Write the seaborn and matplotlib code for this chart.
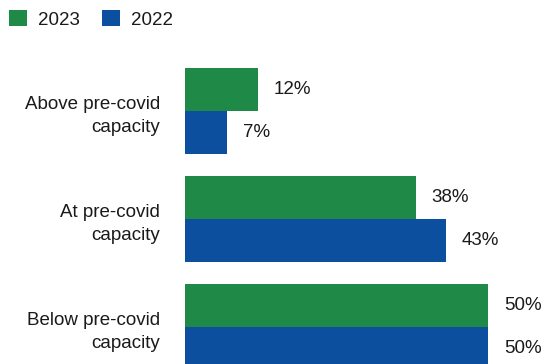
import matplotlib
matplotlib.use("Agg")
import matplotlib.pyplot as plt
from matplotlib.patches import Patch
import seaborn as sns
import pandas as pd

categories = ["Above pre-covid\ncapacity", "At pre-covid\ncapacity", "Below pre-covid\ncapacity"]
years = ["2023", "2022"]
values_2023 = [12, 38, 50]
values_2022 = [7, 43, 50]
colors = {"2023": "#1f8a47", "2022": "#0b4f9e"}

df = pd.DataFrame({
    "category": categories * 2,
    "year": ["2023"] * 3 + ["2022"] * 3,
    "share": values_2023 + values_2022,
})

sns.set_theme(style="white")
plt.rcParams["font.family"] = ["Liberation Sans", "DejaVu Sans"]

fig = plt.figure(figsize=(5.43, 3.64), dpi=100)
ax = fig.add_axes([185 / 543, 0.0, 358 / 543, 307 / 364])

sns.barplot(data=df, y="category", x="share", hue="year", hue_order=years,
            order=categories, palette=colors, orient="h", width=0.8,
            saturation=1, linewidth=0, edgecolor="none", ax=ax, legend=False)

for container in ax.containers:
    ax.bar_label(container, fmt="{:.0f}%", padding=11.5, fontsize=13.5,
                 color="#1a1a1a")

ax.set_xlim(0, 59)
ax.set_ylim(2.3426, -0.5)
ax.set_xlabel("")
ax.set_ylabel("")
ax.set_xticks([])
ax.tick_params(axis="y", length=0, pad=18, labelsize=13.5, labelcolor="#1a1a1a")
for lbl in ax.get_yticklabels():
    lbl.set_linespacing(1.5)
    lbl.set_horizontalalignment("right")
for s in ax.spines.values():
    s.set_visible(False)

handles = [Patch(facecolor=colors[y], edgecolor="none", label=y) for y in years]
fig.legend(handles=handles, loc="upper left", bbox_to_anchor=(9 / 543, 1 - 10 / 364),
           ncol=2, frameon=False, fontsize=13.5, handlelength=0.95,
           handleheight=0.95, handletextpad=0.6, columnspacing=1.2,
           borderpad=0, borderaxespad=0, labelcolor="#1a1a1a")

fig.savefig("out.png", dpi=100)
